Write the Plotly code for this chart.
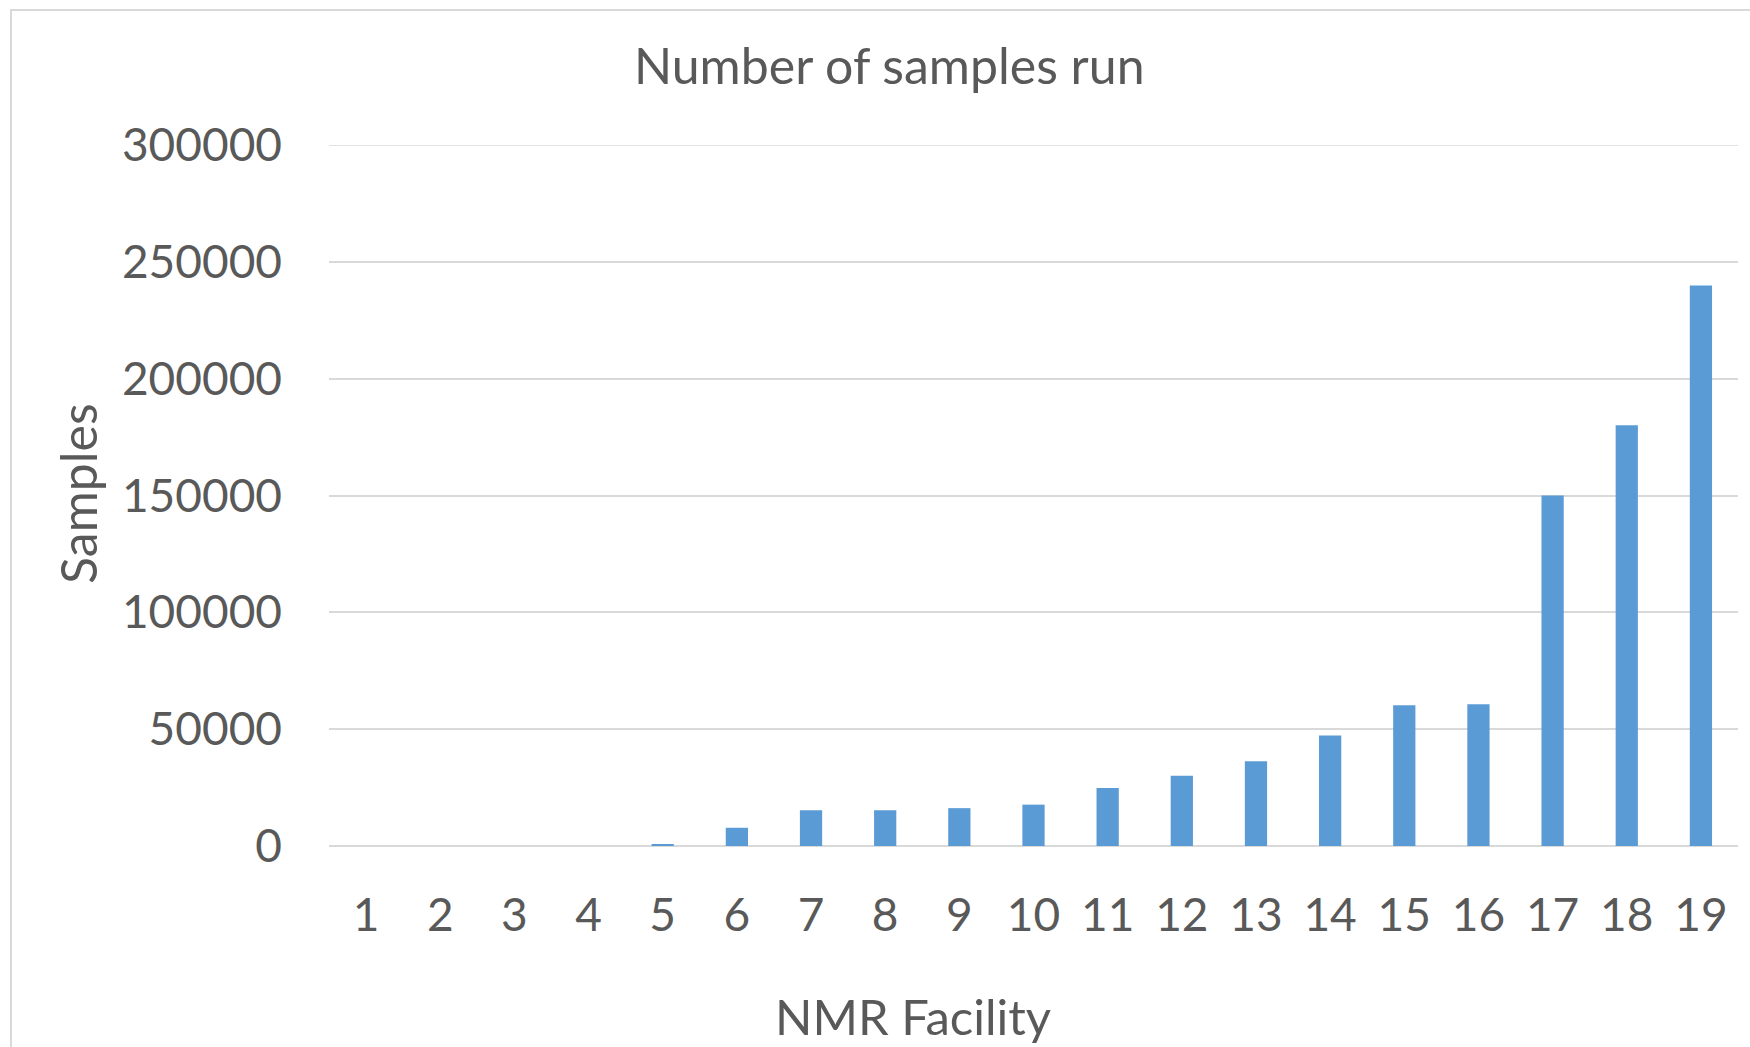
import plotly.graph_objects as go

facilities = [str(i) for i in range(1, 20)]
samples = [0, 0, 0, 0, 850, 7800, 15300, 15300, 16200, 17700, 24800, 30100,
           36300, 47300, 60200, 60700, 150000, 180100, 239900]
y_ticks = [0, 50000, 100000, 150000, 200000, 250000, 300000]

W, H = 1750, 1047
L, R, T, B = 329, 12, 145, 201
pw, ph = W - L - R, H - T - B

def px(x):
    return (x - L) / pw

def py(y):
    return 1 - (y - T) / ph

FONT = "Lato"
TXT = "#595959"
GRID = "#D9D9D9"

fig = go.Figure(go.Bar(
    x=facilities, y=samples, marker_color="#5B9BD5",
    marker_line_width=0, width=0.3,
))

fig.update_layout(
    width=W, height=H,
    margin=dict(l=L, r=R, t=T, b=B, autoexpand=False),
    paper_bgcolor="white", plot_bgcolor="white",
    font=dict(family=FONT, color=TXT),
    showlegend=False,
    xaxis=dict(
        type="category", showgrid=False, zeroline=False, showline=False,
        ticks="", tickfont=dict(size=46, color=TXT), ticklabelstandoff=38,
    ),
    yaxis=dict(
        range=[0, 300000], tickvals=y_ticks, ticktext=[str(v) for v in y_ticks],
        showgrid=True, gridcolor=GRID, gridwidth=1.5,
        zeroline=True, zerolinecolor=GRID, zerolinewidth=2,
        showline=False, ticks="", tickfont=dict(size=46, color=TXT),
        ticklabelstandoff=46,
    ),
    shapes=[
        dict(type="rect", xref="paper", yref="paper",
             x0=px(11), x1=px(1800), y0=py(1100), y1=py(10),
             line=dict(color=GRID, width=2), fillcolor="rgba(0,0,0,0)", layer="below"),
        dict(type="line", xref="paper", yref="y", x0=0, x1=1,
             y0=y_ticks[-1], y1=y_ticks[-1], line=dict(color=GRID, width=1.5), layer="below"),
    ],
    annotations=[
        dict(text="Number of samples run", xref="paper", yref="paper",
             x=px(889), y=py(65), showarrow=False, xanchor="center", yanchor="middle",
             font=dict(size=50, color=TXT, family=FONT)),
        dict(text="NMR Facility", xref="paper", yref="paper",
             x=px(913), y=py(1016), showarrow=False, xanchor="center", yanchor="middle",
             font=dict(size=49, color=TXT, family=FONT)),
        dict(text="Samples", xref="paper", yref="paper", textangle=-90,
             x=px(78), y=py(494), showarrow=False, xanchor="center", yanchor="middle",
             font=dict(size=50, color=TXT, family=FONT)),
    ],
)

fig.write_html("out.html")
